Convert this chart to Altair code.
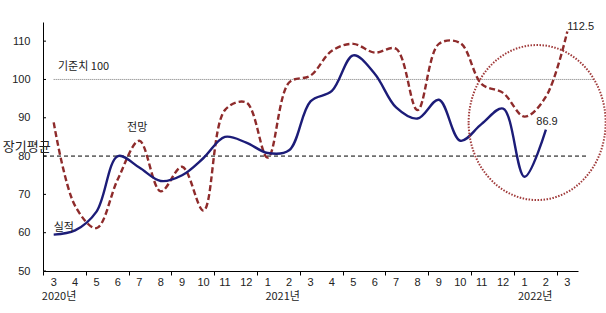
import altair as alt
import pandas as pd

months = ["3", "4", "5", "6", "7", "8", "9", "10", "11", "12", "1", "2", "3", "4", "5", "6", "7", "8", "9", "10", "11", "12", "1", "2", "3"]
actual = [59.5, 60.6, 65.5, 80.0, 77.0, 73.5, 75.0, 79.5, 85.0, 83.5, 80.8, 81.5, 94.3, 97.0, 106.3, 101.5, 92.7, 89.8, 94.7, 84.0, 88.4, 92.4, 74.6, 86.9]
forecast = [88.8, 67.0, 61.2, 74.0, 84.0, 70.8, 77.2, 65.8, 92.0, 94.0, 79.6, 99.2, 101.0, 107.5, 109.3, 107.0, 108.0, 92.0, 109.3, 109.5, 98.8, 96.5, 90.3, 95.5, 112.5]
years = ["2020년", "2021년", "2022년"]
year_pos = [0.25, 10.7, 22.5]
y_ticks = [50, 60, 70, 80, 90, 100, 110]

W, H = 535, 249
FONT = "Liberation Sans"
KFONT = "Noto Sans CJK KR"

df_a = pd.DataFrame({"i": list(range(len(actual))), "v": actual})
df_f = pd.DataFrame({"i": list(range(len(forecast))), "v": forecast})

xs = alt.Scale(domain=[-0.5, 24.5], nice=False, zero=False)
ys = alt.Scale(domain=[50, 115], nice=False, zero=False)

x_axis = alt.Axis(
    values=[k - 0.5 for k in range(26)], labels=False,
    tickSize=4, tickColor="#000", domainColor="#000",
    grid=False, title=None,
)
y_axis = alt.Axis(
    values=y_ticks, ticks=False, domainColor="#000", labelFont=FONT,
    labelFontSize=11, labelColor="#222", labelPadding=13, grid=False, title=None,
)

base_x = alt.X("i:Q", scale=xs, axis=x_axis)
base_y = alt.Y("v:Q", scale=ys, axis=y_axis)

line_a = alt.Chart(df_a).mark_line(color="#1c1c78", strokeWidth=2.4, interpolate="catmull-rom").encode(x=base_x, y=base_y)
line_f = alt.Chart(df_f).mark_line(color="#8e2b2b", strokeWidth=2.4, strokeDash=[6, 3], interpolate="catmull-rom").encode(x=base_x, y=base_y)

ref_df = pd.DataFrame({"x": [0.0, -0.5], "x2": [25.2, 24.9], "v": [100, 80], "k": ["ref100", "avg"]})
ref100 = alt.Chart(ref_df[ref_df.k == "ref100"]).mark_rule(color="#777", strokeWidth=1, strokeDash=[1, 1]).encode(
    x=alt.X("x:Q", scale=xs), x2="x2:Q", y=alt.Y("v:Q", scale=ys))
ref80 = alt.Chart(ref_df[ref_df.k == "avg"]).mark_rule(color="#000", strokeWidth=1, strokeDash=[4, 3]).encode(
    x=alt.X("x:Q", scale=xs), x2="x2:Q", y=alt.Y("v:Q", scale=ys))

ytick_df = pd.DataFrame({"v": y_ticks})
yticks = alt.Chart(ytick_df).mark_rule(color="#000", strokeWidth=1).encode(
    x=alt.value(0), x2=alt.value(3), y=alt.Y("v:Q", scale=ys))

ell_df = pd.DataFrame({"i": [22.59], "v": [88.76]})
ellipse = alt.Chart(ell_df).mark_point(
    shape="M -0.884 0 A 0.884 1 0 1 1 0.884 0 A 0.884 1 0 1 1 -0.884 0 Z",
    size=24025, filled=False, color="#a03a3a", strokeWidth=2, strokeDash=[1.5, 1.5], opacity=1,
).encode(x=alt.X("i:Q", scale=xs), y=alt.Y("v:Q", scale=ys))

ann_df = pd.DataFrame({
    "t": ["기준치 100", "전망", "실적"],
    "i": [0.2, 3.9, 0.47],
    "v": [103.3, 87.3, 61.2],
})
ann_c = alt.Chart(ann_df[ann_df.t != "기준치 100"]).mark_text(font=KFONT, fontSize=11, color="#222", align="center", baseline="middle").encode(
    x=alt.X("i:Q", scale=xs), y=alt.Y("v:Q", scale=ys), text="t:N")
ann_l = alt.Chart(ann_df[ann_df.t == "기준치 100"]).mark_text(font=KFONT, fontSize=11, color="#222", align="left", baseline="middle").encode(
    x=alt.X("i:Q", scale=xs), y=alt.Y("v:Q", scale=ys), text="t:N")

avg_df = pd.DataFrame({"t": ["장기평균"], "i": [-2.38], "v": [82.3]})
avg_lbl = alt.Chart(avg_df).mark_text(font=KFONT, fontSize=13, color="#222", align="left", baseline="middle").encode(
    x=alt.X("i:Q", scale=xs), y=alt.Y("v:Q", scale=ys), text="t:N")

val_df = pd.DataFrame({"t": ["86.9", "112.5"], "i": [22.55, 24.0], "v": [86.9 + 2.1, 112.5 + 1.1]})
val_lbl = alt.Chart(val_df).mark_text(font=FONT, fontSize=11, color="#222", align="left", baseline="middle").encode(
    x=alt.X("i:Q", scale=xs), y=alt.Y("v:Q", scale=ys), text="t:N")

mon_df = pd.DataFrame({"t": months, "i": list(range(len(months)))})
mon_lbl = alt.Chart(mon_df).mark_text(font=FONT, fontSize=11, color="#222", align="center", baseline="middle").encode(
    x=alt.X("i:Q", scale=xs), y=alt.value(H + 12), text="t:N")

yr_df = pd.DataFrame({"t": years, "i": year_pos})
yr_lbl = alt.Chart(yr_df).mark_text(font=KFONT, fontSize=11, color="#222", align="center", baseline="middle").encode(
    x=alt.X("i:Q", scale=xs), y=alt.value(H + 26), text="t:N")

chart = alt.layer(
    ref100, ref80, yticks, line_f, line_a, ellipse, ann_c, ann_l, avg_lbl, val_lbl, mon_lbl, yr_lbl
).properties(
    width=W, height=H,
    autosize=alt.AutoSizeParams(type="none"),
    padding={"left": 43, "top": 22, "right": 28, "bottom": 42},
    background="white",
).configure_view(stroke=None)

chart.save("out.html", embed_options={"renderer": "svg", "actions": False})
